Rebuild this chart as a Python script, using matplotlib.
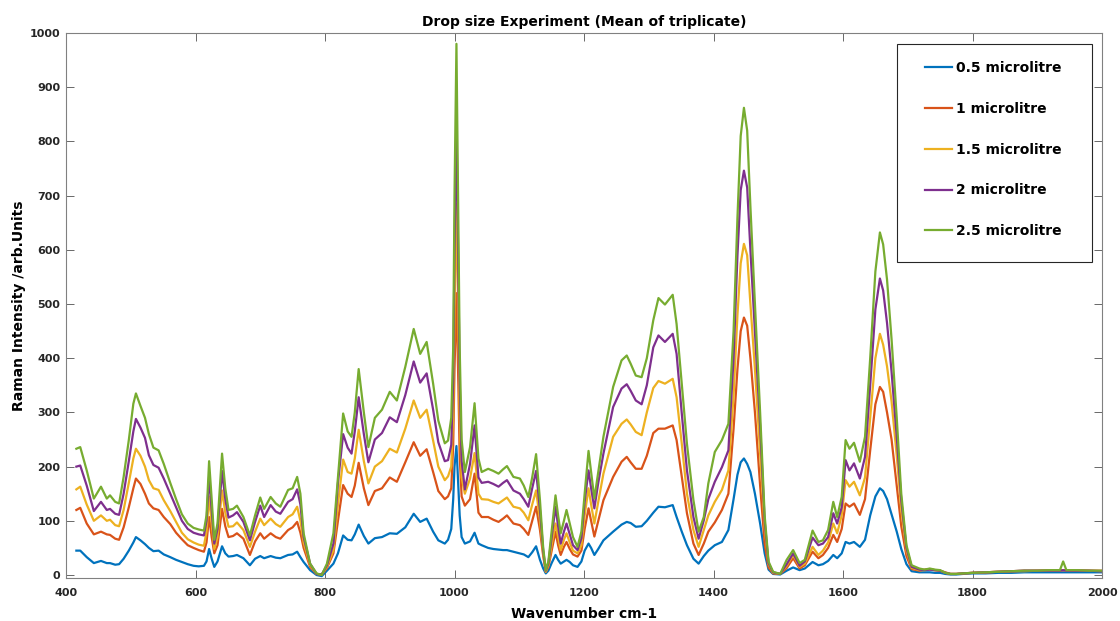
import matplotlib
matplotlib.use("Agg")
import matplotlib.pyplot as plt
from matplotlib.patches import Rectangle

# Raman shift axis (cm-1)
wavenumber = [
    416, 422, 432, 443, 454, 463, 468, 476, 482, 489, 497, 504, 508, 515, 522, 528, 535, 543, 551, 561, 570, 579, 588, 597, 605, 613,
    617, 621, 625, 629, 634, 641, 646, 651, 658, 664, 674, 684, 692, 700, 706, 716, 724, 731, 743, 750, 757, 762, 767, 777, 787, 795,
    803, 813, 820, 828, 835, 841, 846, 852, 860, 867, 877, 888, 900, 911, 924, 937, 947, 957, 967, 975, 985, 990,
    995, 998, 1000, 1003, 1006, 1008, 1011,
    1016, 1024, 1031, 1037, 1042, 1052, 1060, 1068, 1075, 1081, 1091, 1101, 1107, 1114, 1120, 1126, 1132, 1137, 1141, 1145,
    1150, 1156, 1160, 1164, 1169, 1173, 1178, 1183, 1190, 1196, 1201, 1207, 1211, 1216, 1222, 1230, 1245, 1258, 1266, 1272,
    1280, 1289, 1297,
    1307, 1315, 1325, 1337, 1343, 1351, 1359, 1369, 1377, 1385, 1392, 1402, 1413, 1423, 1431, 1437, 1442, 1447, 1452, 1457,
    1464, 1472, 1479, 1485, 1492, 1503,
    1513, 1523, 1533, 1541, 1553, 1562, 1569, 1577, 1585, 1591, 1598, 1604, 1610, 1617, 1626, 1634, 1642, 1650, 1657, 1662,
    1668, 1675, 1683, 1690, 1698, 1706, 1718,
    1726, 1734, 1742, 1750, 1758, 1766, 1775, 1785, 1800, 1820, 1840, 1860, 1880, 1900, 1920, 1935, 1940, 1945, 1960, 1980,
    2000,
]

# Mean intensities for each drop volume
i_05 = [
    45, 45, 33, 22, 26, 22, 22, 19, 20, 30, 45, 60, 70, 64, 57, 50, 44, 45, 38, 33, 28, 24, 20, 17, 16, 17,
    25, 48, 30, 15, 25, 53, 40, 34, 35, 37, 31, 18, 30, 35, 31, 35, 32, 31, 37, 38, 43, 33, 24, 9, 0, -2,
    8, 21, 40, 73, 65, 64, 75, 93, 72, 58, 68, 70, 77, 76, 88, 113, 98, 104, 80, 64, 58, 65,
    85, 140, 200, 238, 160, 110, 70,
    58, 62, 78, 58, 55, 50, 48, 47, 46, 46, 43, 40, 38, 33, 42, 53, 28, 12, 3, 8,
    22, 37, 28, 21, 25, 28, 24, 18, 15, 25, 45, 58, 50, 37, 48, 64, 80, 93, 98, 96,
    89, 90, 100,
    115, 126, 125, 129, 107, 80, 55, 30, 21, 35, 45, 55, 61, 83, 140, 185, 208, 215, 205, 190,
    150, 95, 40, 10, 2, 1,
    8, 14, 9, 12, 24, 18, 20, 26, 37, 31, 40, 61, 58, 61, 52, 65, 110, 145, 160, 155,
    140, 112, 80, 48, 20, 7, 5,
    5, 5, 4, 4, 2, 1, 1, 2, 3, 3, 4, 4, 5, 5, 5, 5, 5, 5, 5, 5,
    5,
]
i_10 = [
    120, 124, 95, 75, 80, 75, 74, 67, 65, 88, 125, 160, 178, 168, 150, 132, 123, 120, 107, 94, 78, 66, 55, 50, 46, 43,
    60, 107, 70, 40, 55, 122, 90, 70, 72, 77, 67, 37, 62, 77, 67, 77, 70, 67, 83, 88, 98, 78, 50, 15, 2, 1,
    13, 40, 100, 166, 150, 144, 165, 207, 160, 129, 155, 160, 180, 172, 208, 245, 220, 232, 190, 155, 140, 145,
    160, 240, 380, 520, 350, 220, 145,
    128, 140, 187, 115, 107, 107, 102, 98, 104, 110, 95, 92, 85, 74, 100, 126, 83, 35, 6, 15,
    45, 80, 55, 37, 52, 61, 48, 38, 34, 45, 85, 123, 100, 71, 100, 138, 181, 209, 218, 208,
    196, 196, 220,
    262, 270, 270, 276, 249, 181, 114, 58, 37, 58, 80, 97, 120, 150, 270, 380, 450, 475, 460, 400,
    300, 165, 58, 14, 3, 2,
    13, 31, 12, 18, 43, 31, 37, 50, 74, 61, 85, 132, 126, 132, 111, 140, 230, 315, 347, 338,
    300, 250, 165, 90, 35, 11, 8,
    10, 11, 9, 8, 5, 2, 2, 3, 4, 5, 6, 7, 8, 8, 9, 9, 9, 9, 9, 8,
    8,
]
i_15 = [
    158, 163, 130, 100, 110, 100, 102, 92, 90, 120, 170, 215, 233, 220, 200, 175, 160, 157, 138, 118, 98, 78, 66, 60, 56, 54,
    80, 145, 95, 48, 70, 156, 115, 89, 90, 97, 83, 52, 80, 104, 92, 104, 94, 89, 107, 112, 126, 100, 60, 18, 2, 1,
    15, 46, 130, 213, 190, 187, 215, 268, 210, 169, 200, 210, 233, 226, 270, 322, 290, 305, 248, 200, 175, 182,
    200, 300, 490, 685, 460, 290, 180,
    150, 178, 225, 150, 140, 139, 135, 132, 138, 143, 126, 123, 115, 101, 130, 156, 101, 40, 6, 18,
    55, 95, 70, 46, 65, 77, 60, 45, 40, 55, 110, 160, 130, 95, 135, 187, 255, 279, 287, 278,
    264, 258, 300,
    345, 358, 353, 362, 328, 242, 150, 83, 52, 83, 110, 135, 157, 193, 330, 480, 575, 611, 590, 500,
    380, 225, 88, 20, 4, 2,
    17, 37, 15, 21, 52, 37, 45, 60, 95, 77, 110, 175, 163, 172, 147, 180, 290, 400, 445, 425,
    385, 320, 220, 120, 45, 13, 9,
    9, 10, 9, 8, 4, 2, 2, 3, 4, 5, 6, 7, 7, 8, 8, 8, 9, 8, 8, 8,
    7,
]
i_20 = [
    200, 202, 165, 118, 135, 120, 122, 113, 111, 150, 210, 265, 288, 272, 253, 221, 203, 198, 178, 150, 125, 100, 85, 78, 75, 73,
    100, 182, 120, 58, 85, 192, 140, 106, 110, 116, 98, 64, 98, 128, 107, 129, 117, 113, 135, 140, 158, 130, 70, 21, 2, 1,
    18, 58, 170, 260, 235, 224, 265, 328, 260, 208, 250, 262, 291, 282, 332, 394, 355, 372, 305, 245, 210, 212,
    240, 360, 600, 845, 560, 360, 210,
    158, 205, 276, 180, 170, 172, 168, 163, 170, 175, 156, 150, 140, 126, 160, 192, 120, 45, 8, 22,
    70, 126, 90, 58, 80, 95, 75, 55, 46, 68, 135, 193, 160, 123, 170, 224, 310, 344, 352, 340,
    322, 315, 350,
    420, 442, 430, 445, 408, 298, 193, 107, 67, 101, 140, 172, 199, 230, 400, 590, 710, 746, 715, 600,
    450, 275, 100, 22, 5, 2,
    20, 40, 17, 25, 69, 55, 58, 70, 114, 95, 125, 212, 193, 206, 178, 218, 350, 490, 547, 525,
    465, 375, 255, 138, 50, 15, 10,
    9, 10, 9, 8, 4, 2, 2, 3, 4, 5, 6, 7, 8, 8, 8, 8, 9, 8, 8, 8,
    7,
]
i_25 = [
    233, 236, 193, 141, 163, 141, 147, 135, 132, 181, 249, 316, 335, 312, 290, 260, 235, 230, 205, 170, 140, 112, 95, 87, 84, 82,
    110, 210, 140, 65, 95, 224, 160, 120, 122, 128, 107, 73, 110, 143, 122, 144, 132, 126, 157, 160, 181, 150, 77, 21, 3, 0,
    21, 77, 180, 298, 265, 255, 300, 380, 300, 236, 290, 305, 338, 322, 384, 454, 408, 430, 353, 285, 243, 248,
    290, 420, 700, 980, 650, 420, 250,
    190, 236, 317, 215, 190, 196, 192, 187, 195, 201, 181, 178, 165, 144, 180, 223, 138, 50, 9, 25,
    80, 147, 110, 77, 100, 120, 95, 70, 52, 80, 150, 229, 190, 141, 190, 255, 347, 396, 405, 390,
    368, 365, 400,
    470, 511, 499, 517, 463, 353, 242, 138, 80, 107, 169, 227, 249, 279, 450, 660, 810, 862, 820, 680,
    500, 300, 110, 25, 6, 2,
    28, 46, 22, 28, 82, 61, 64, 83, 135, 107, 144, 249, 233, 244, 209, 255, 400, 560, 632, 610,
    545, 435, 290, 150, 55, 18, 12,
    10, 12, 10, 9, 4, 2, 2, 3, 4, 5, 6, 7, 8, 8, 9, 9, 25, 9, 9, 8,
    8,
]

series = [i_05, i_10, i_15, i_20, i_25]
labels = ["0.5 microlitre", "1 microlitre", "1.5 microlitre", "2 microlitre", "2.5 microlitre"]
colors = ["#0072BD", "#D95319", "#EDB120", "#7E2F8E", "#77AC30"]

for s in series:
    assert len(s) == len(wavenumber)

W, H = 1120, 621
fig = plt.figure(figsize=(W / 100, H / 100), dpi=100)
fig.patch.set_facecolor("white")
ax = fig.add_axes([66 / W, 1 - 578 / H, (1102 - 66) / W, (578 - 33) / H])

for y, c, lab in zip(series, colors, labels):
    ax.plot(wavenumber, y, color=c, lw=1.6, label=lab, solid_joinstyle="round")

ax.set_xlim(400, 2000)
ax.set_ylim(-5.5, 1000)
ax.set_xticks(range(400, 2001, 200))
ax.set_yticks(range(0, 1001, 100))
ax.tick_params(direction="in", length=6, width=0.6, color="#505050",
               top=True, right=True, labelsize=8, labelcolor="#262626")
ax.tick_params(axis="x", pad=7)
ax.tick_params(axis="y", pad=4)
for lbl in ax.get_xticklabels() + ax.get_yticklabels():
    lbl.set_fontweight("bold")
for sp in ax.spines.values():
    sp.set_color("#808080")
    sp.set_linewidth(0.8)

ax.set_title("Drop size Experiment (Mean of triplicate)", fontsize=10,
             fontweight="bold", pad=5)
ax.set_xlabel("Wavenumber cm-1", fontsize=10, fontweight="bold", labelpad=7)
ax.set_ylabel("Raman Intensity /arb.Units", fontsize=10, fontweight="bold", labelpad=3)

# legend box and entries
box = Rectangle((897 / W, 1 - 262 / H), 195 / W, 218 / H, transform=fig.transFigure,
                facecolor="white", edgecolor="#262626", lw=0.8, zorder=4)
fig.add_artist(box)
leg = ax.legend(loc="upper left", bbox_to_anchor=(925 / W, 1 - 61 / H),
                bbox_transform=fig.transFigure, frameon=False,
                prop={"weight": "bold", "size": 10}, handlelength=1.95,
                handletextpad=0.25, labelspacing=1.93, borderpad=0, borderaxespad=0)
leg.set_zorder(5)
fig.add_artist(leg)

fig.savefig("out.png", dpi=100, facecolor="white")
